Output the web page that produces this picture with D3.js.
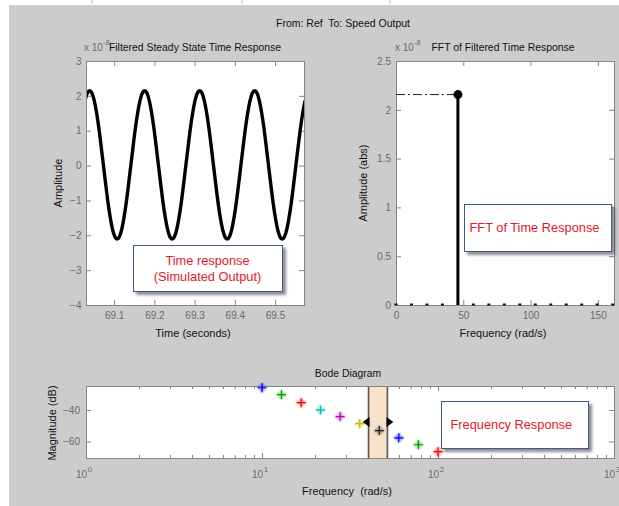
<!DOCTYPE html>
<html><head><meta charset="utf-8">
<script src="https://cdn.jsdelivr.net/npm/d3@7"></script>
<style>
html,body{margin:0;padding:0;background:#fff;}
svg{display:block;font-family:"Liberation Sans", Arial, Helvetica, sans-serif;}
</style></head><body>
<svg id="chart" width="619" height="506"></svg>
<script>
// ---------------- DATA ----------------
const mainTitle = "From: Ref  To: Speed Output";
// time response samples
const timeStart = 69.0276, timeStep = 0.0057;
const timeValues = [
  1.87, 2.08, 2.15, 2.08, 1.87, 1.53, 1.09, 0.57, 0.02, -0.53, -1.05, -1.49, -1.83, -2.04, -2.11, -2.04, -1.83, -1.49, -1.05, -0.53, 0.02, 0.57, 1.09, 1.53,
  1.87, 2.08, 2.15, 2.08, 1.87, 1.53, 1.09, 0.57, 0.02, -0.53, -1.05, -1.49, -1.83, -2.04, -2.11, -2.04, -1.83, -1.49, -1.05, -0.53, 0.02, 0.57, 1.09, 1.53,
  1.87, 2.08, 2.15, 2.08, 1.87, 1.53, 1.09, 0.57, 0.02, -0.53, -1.05, -1.49, -1.83, -2.04, -2.11, -2.04, -1.83, -1.49, -1.05, -0.53, 0.02, 0.57, 1.09, 1.53,
  1.87, 2.08, 2.15, 2.08, 1.87, 1.53, 1.09, 0.57, 0.02, -0.53, -1.05, -1.49, -1.83, -2.04, -2.11, -2.04, -1.83, -1.49, -1.05, -0.53, 0.02, 0.57, 1.09, 1.53,
  1.87
];
const timeDomain = [69.03, 69.572];
const timeTicks = [69.1, 69.2, 69.3, 69.4, 69.5];
const ampDomain = [-4, 3];
const ampTicks = [-4, -3, -2, -1, 0, 1, 2, 3];

// FFT
const fftFreqs = [0, 11.5, 23, 34.5, 46, 57.5, 69, 80.5, 92, 103.5, 115, 126.5, 138, 149.5, 161];
const fftAmps  = [0, 0, 0, 0, 2.156, 0, 0, 0, 0, 0, 0, 0, 0, 0, 0];
const fftXDomain = [0, 162];
const fftXTicks = [0, 50, 100, 150];
const fftYDomain = [0, 2.5];
const fftYTicks = [0, 0.5, 1, 1.5, 2, 2.5];

// Bode
const bodeFreqs = [10, 12.9, 16.7, 21.5, 27.8, 35.9, 46.4, 59.9, 77.4, 100];
const bodeMag   = [-25.9, -30.3, -35.4, -40, -44.2, -48.7, -53.1, -57.7, -62.1, -66.5];
const bodeColors = ["#0000ff", "#00a000", "#ff0000", "#00bfbf", "#bf00bf", "#bfbf00", "#222222", "#0000ff", "#00a000", "#ff0000"];
const bodeBand = [40.3, 51.6];
const bodeXDomain = [1, 1000];
const bodeXTicks = [1, 10, 100, 1000];
const bodeYDomain = [-70.5, -24.8];
const bodeYTicks = [-60, -40];

// ---------------- DRAW ----------------
const svg = d3.select("#chart");
const axisColor = "#858585", labelColor = "#6a6a6a";

const defs = svg.append("defs");
const f = defs.append("filter").attr("id", "shadow").attr("x", "-10%").attr("y", "-10%").attr("width", "130%").attr("height", "140%");
f.append("feDropShadow").attr("dx", 3).attr("dy", 3).attr("stdDeviation", 1.6).attr("flood-color", "#000").attr("flood-opacity", 0.45);
const glow = defs.append("filter").attr("id", "glow").attr("x", "-50%").attr("y", "-50%").attr("width", "200%").attr("height", "200%");
glow.append("feGaussianBlur").attr("stdDeviation", 0.9);

// figure background
svg.append("rect").attr("x", 9).attr("y", 5).attr("width", 610).attr("height", 501).attr("fill", "#cccccc");
[92, 242, 390].forEach(x => svg.append("line").attr("x1", x).attr("x2", x).attr("y1", 0).attr("y2", 4).attr("stroke", "#b5b5b5"));

svg.append("text").attr("x", 343).attr("y", 27).attr("text-anchor", "middle")
  .attr("font-size", 10.5).attr("fill", "#111").style("white-space", "pre").text(mainTitle);

function styleAxis(g) {
  g.selectAll(".domain").remove();
  g.selectAll(".tick line").attr("stroke", axisColor);
  g.selectAll(".tick text").attr("fill", labelColor).attr("font-size", 10)
    .attr("font-family", '"Liberation Sans", Arial, sans-serif');
}
function frame(x0, y0, w, h) {
  svg.append("rect").attr("x", x0).attr("y", y0).attr("width", w).attr("height", h)
    .attr("fill", "#fff");
}
function border(x0, y0, w, h) {
  svg.append("rect").attr("x", x0 + 0.5).attr("y", y0 + 0.5).attr("width", w).attr("height", h)
    .attr("fill", "none").attr("stroke", axisColor).attr("stroke-width", 1);
}
function annot(x, y, w, h, lines, anchor, tx, baselines) {
  const g = svg.append("g");
  g.append("rect").attr("x", x + 0.5).attr("y", y + 0.5).attr("width", w).attr("height", h)
    .attr("fill", "#fff").attr("stroke", "#3d5a8a").attr("stroke-width", 1).attr("filter", "url(#shadow)");
  lines.forEach((t, i) => g.append("text").attr("x", tx).attr("y", baselines[i])
    .attr("text-anchor", anchor).attr("font-size", 12.8).attr("fill", "#e2182a").text(t));
}

// ===== Panel 1: time response =====
const p1 = {x0: 86, y0: 61, x1: 304, y1: 305};
const x1s = d3.scaleLinear().domain(timeDomain).range([p1.x0, p1.x1]);
const y1s = d3.scaleLinear().domain(ampDomain).range([p1.y1, p1.y0]);
frame(p1.x0, p1.y0, p1.x1 - p1.x0, p1.y1 - p1.y0);
defs.append("clipPath").attr("id", "clip1").append("rect")
  .attr("x", p1.x0).attr("y", p1.y0).attr("width", p1.x1 - p1.x0).attr("height", p1.y1 - p1.y0);
svg.append("g").attr("transform", `translate(0,${p1.y1})`)
  .call(d3.axisBottom(x1s).tickValues(timeTicks).tickSizeInner(-5).tickSizeOuter(0).tickPadding(7.2).tickFormat(d3.format(".1f"))).call(styleAxis);
svg.append("g").attr("transform", `translate(0,${p1.y0})`)
  .call(d3.axisTop(x1s).tickValues(timeTicks).tickSizeInner(-5).tickSizeOuter(0).tickFormat("")).call(styleAxis);
svg.append("g").attr("transform", `translate(${p1.x0},0)`)
  .call(d3.axisLeft(y1s).tickValues(ampTicks).tickSizeInner(-5).tickSizeOuter(0).tickPadding(4.5).tickFormat(d3.format("d"))).call(styleAxis);
svg.append("g").attr("transform", `translate(${p1.x1},0)`)
  .call(d3.axisRight(y1s).tickValues(ampTicks).tickSizeInner(-5).tickSizeOuter(0).tickFormat("")).call(styleAxis);
const line1 = d3.line().x((d, i) => x1s(timeStart + i * timeStep)).y(d => y1s(d)).curve(d3.curveMonotoneX);
svg.append("path").datum(timeValues).attr("d", line1).attr("clip-path", "url(#clip1)")
  .attr("fill", "none").attr("stroke", "#000").attr("stroke-width", 3.4).attr("stroke-linejoin", "round");
border(p1.x0, p1.y0, p1.x1 - p1.x0, p1.y1 - p1.y0);
// exponent + title
const e1 = svg.append("text").attr("x", 84).attr("y", 50.5).attr("font-size", 10).attr("fill", labelColor);
e1.append("tspan").text("x 10");
e1.append("tspan").attr("dy", -6).attr("font-size", 7.5).text("-8");
svg.append("text").attr("x", (p1.x0 + p1.x1) / 2).attr("y", 50.5).attr("text-anchor", "middle")
  .attr("font-size", 10.4).attr("fill", "#111").text("Filtered Steady State Time Response");
svg.append("text").attr("x", 193).attr("y", 337).attr("text-anchor", "middle").attr("font-size", 11).attr("fill", "#111").text("Time (seconds)");
svg.append("text").attr("transform", "translate(62,183) rotate(-90)").attr("text-anchor", "middle").attr("font-size", 11).attr("fill", "#111").text("Amplitude");
annot(133, 245, 149, 46, ["Time response", "(Simulated Output)"], "middle", 207.5, [265, 281]);

// ===== Panel 2: FFT =====
const p2 = {x0: 396, y0: 61, x1: 614, y1: 305};
const x2s = d3.scaleLinear().domain(fftXDomain).range([p2.x0, p2.x1]);
const y2s = d3.scaleLinear().domain(fftYDomain).range([p2.y1, p2.y0]);
frame(p2.x0, p2.y0, p2.x1 - p2.x0, p2.y1 - p2.y0);
svg.append("g").attr("transform", `translate(0,${p2.y1})`)
  .call(d3.axisBottom(x2s).tickValues(fftXTicks).tickSizeInner(-5).tickSizeOuter(0).tickPadding(7.2)).call(styleAxis);
svg.append("g").attr("transform", `translate(0,${p2.y0})`)
  .call(d3.axisTop(x2s).tickValues(fftXTicks).tickSizeInner(-5).tickSizeOuter(0).tickFormat("")).call(styleAxis);
svg.append("g").attr("transform", `translate(${p2.x0},0)`)
  .call(d3.axisLeft(y2s).tickValues(fftYTicks).tickSizeInner(-5).tickSizeOuter(0).tickPadding(5).tickFormat(d => d3.format("")(d))).call(styleAxis);
svg.append("g").attr("transform", `translate(${p2.x1},0)`)
  .call(d3.axisRight(y2s).tickValues(fftYTicks).tickSizeInner(-5).tickSizeOuter(0).tickFormat("")).call(styleAxis);
border(p2.x0, p2.y0, p2.x1 - p2.x0, p2.y1 - p2.y0);
const fftData = fftFreqs.map((fq, i) => ({f: fq, a: fftAmps[i]}));
const peak = fftData.reduce((a, b) => (b.a > a.a ? b : a));
// dash-dot reference
svg.append("line").attr("x1", p2.x0).attr("x2", x2s(peak.f)).attr("y1", y2s(peak.a)).attr("y2", y2s(peak.a))
  .attr("stroke", "#222").attr("stroke-width", 1).attr("stroke-dasharray", "9,3,2,3");
// small zero markers
svg.append("g").selectAll("rect").data(fftData.filter(d => d.a < 0.5)).join("rect")
  .attr("x", d => x2s(d.f) - 1.5).attr("y", d => y2s(d.a) - 1.5).attr("width", 3).attr("height", 2).attr("fill", "#111");
// stem + marker
svg.append("g").selectAll("line").data(fftData.filter(d => d.a >= 0.5)).join("line")
  .attr("x1", d => x2s(d.f)).attr("x2", d => x2s(d.f)).attr("y1", y2s(0)).attr("y2", d => y2s(d.a))
  .attr("stroke", "#000").attr("stroke-width", 3);
svg.append("g").selectAll("circle").data(fftData.filter(d => d.a >= 0.5)).join("circle")
  .attr("cx", d => x2s(d.f)).attr("cy", d => y2s(d.a)).attr("r", 4.5).attr("fill", "#000");
const e2 = svg.append("text").attr("x", 395).attr("y", 51).attr("font-size", 10).attr("fill", labelColor);
e2.append("tspan").text("x 10");
e2.append("tspan").attr("dy", -6).attr("font-size", 7.5).text("-8");
svg.append("text").attr("x", 503).attr("y", 51).attr("text-anchor", "middle")
  .attr("font-size", 10.4).attr("fill", "#111").text("FFT of Filtered Time Response");
svg.append("text").attr("x", 503).attr("y", 337).attr("text-anchor", "middle").attr("font-size", 11).attr("fill", "#111").text("Frequency (rad/s)");
svg.append("text").attr("transform", "translate(367,183) rotate(-90)").attr("text-anchor", "middle").attr("font-size", 11).attr("fill", "#111").text("Amplitude (abs)");
annot(464, 204, 147, 47, ["FFT of Time Response"], "start", 469.5, [232]);

// ===== Panel 3: Bode =====
const p3 = {x0: 86, y0: 386, x1: 614, y1: 458};
const x3s = d3.scaleLog().domain(bodeXDomain).range([p3.x0, p3.x1]);
const y3s = d3.scaleLinear().domain(bodeYDomain).range([p3.y1, p3.y0]);
frame(p3.x0, p3.y0, p3.x1 - p3.x0, p3.y1 - p3.y0);
const minorTicks = [];
for (let dec = 1; dec < 1000; dec *= 10) for (let m = 2; m <= 9; m++) minorTicks.push(dec * m);
svg.append("g").attr("transform", `translate(0,${p3.y1})`)
  .call(d3.axisBottom(x3s).tickValues(minorTicks).tickSizeInner(-3).tickSizeOuter(0).tickFormat("")).call(styleAxis);
svg.append("g").attr("transform", `translate(0,${p3.y0})`)
  .call(d3.axisTop(x3s).tickValues(minorTicks).tickSizeInner(-3).tickSizeOuter(0).tickFormat("")).call(styleAxis);
svg.append("g").attr("transform", `translate(0,${p3.y1})`)
  .call(d3.axisBottom(x3s).tickValues(bodeXTicks).tickSizeInner(-5).tickSizeOuter(0).tickFormat("")).call(styleAxis);
svg.append("g").attr("transform", `translate(0,${p3.y0})`)
  .call(d3.axisTop(x3s).tickValues(bodeXTicks).tickSizeInner(-5).tickSizeOuter(0).tickFormat("")).call(styleAxis);
svg.append("g").attr("transform", `translate(${p3.x0},0)`)
  .call(d3.axisLeft(y3s).tickValues(bodeYTicks).tickSizeInner(-5).tickSizeOuter(0).tickPadding(6)).call(styleAxis);
svg.append("g").attr("transform", `translate(${p3.x1},0)`)
  .call(d3.axisRight(y3s).tickValues(bodeYTicks).tickSizeInner(-5).tickSizeOuter(0).tickFormat("")).call(styleAxis);
// log tick labels 10^n
const lbl = svg.append("g").selectAll("g").data(bodeXTicks).join("g")
  .attr("transform", d => `translate(${x3s(d)},0)`);
lbl.append("text").attr("x", 1).attr("y", 477.5).attr("text-anchor", "end").attr("font-size", 10).attr("fill", labelColor).text("10");
lbl.append("text").attr("x", 1.8).attr("y", 472).attr("font-size", 8).attr("fill", labelColor).text(d => Math.round(Math.log10(d)));
// band
svg.append("rect").attr("x", x3s(bodeBand[0])).attr("y", p3.y0).attr("width", x3s(bodeBand[1]) - x3s(bodeBand[0]))
  .attr("height", p3.y1 - p3.y0).attr("fill", "#f8e3c9");
bodeBand.forEach(b => svg.append("line").attr("x1", x3s(b)).attr("x2", x3s(b)).attr("y1", p3.y0).attr("y2", p3.y1)
  .attr("stroke", "#555").attr("stroke-width", 1.6));
border(p3.x0, p3.y0, p3.x1 - p3.x0, p3.y1 - p3.y0);
// band handles
const hy = y3s(-47.6);
const bl = x3s(bodeBand[0]), br = x3s(bodeBand[1]);
svg.append("path").attr("d", `M${bl + 1},${hy - 5}L${bl + 1},${hy + 5}L${bl - 6},${hy}Z`).attr("fill", "#000");
svg.append("path").attr("d", `M${br - 1},${hy - 5}L${br - 1},${hy + 5}L${br + 6},${hy}Z`).attr("fill", "#000");
// markers
const bodeData = bodeFreqs.map((fq, i) => ({f: fq, m: bodeMag[i], c: bodeColors[i]}));
const cross = "M-4.5,0H4.5M0,-4.5V4.5";
const mk = svg.append("g").selectAll("g").data(bodeData).join("g")
  .attr("transform", d => `translate(${x3s(d.f)},${y3s(d.m)})`);
mk.append("path").attr("d", cross).attr("stroke", d => d.c).attr("stroke-width", 3.2).attr("opacity", 0.45).attr("filter", "url(#glow)");
mk.append("path").attr("d", cross).attr("stroke", d => d.c).attr("stroke-width", 1.2);
svg.append("text").attr("x", 348).attr("y", 376.5).attr("text-anchor", "middle").attr("font-size", 10.4).attr("fill", "#111").text("Bode Diagram");
svg.append("text").attr("x", 347).attr("y", 495).attr("text-anchor", "middle").attr("font-size", 11).attr("fill", "#111")
  .attr("xml:space", "preserve").style("white-space", "pre").text("Frequency  (rad/s)");
svg.append("text").attr("transform", "translate(56,423) rotate(-90)").attr("text-anchor", "middle").attr("font-size", 11).attr("fill", "#111").text("Magnitude (dB)");
annot(441, 401, 147, 47, ["Frequency Response"], "start", 450.5, [428.5]);
</script>
</body></html>
